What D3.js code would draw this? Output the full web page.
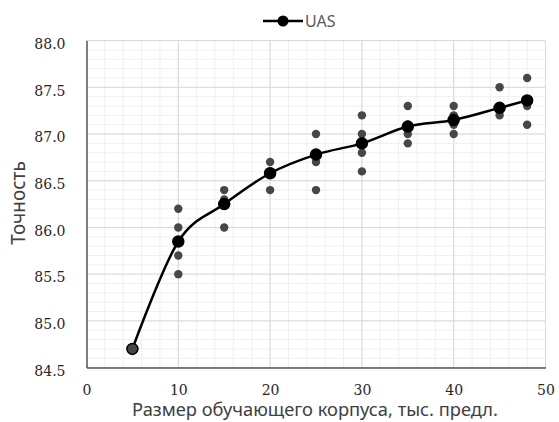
<!DOCTYPE html>
<html>
<head>
<meta charset="utf-8">
<script src="https://cdn.jsdelivr.net/npm/d3@7"></script>
<style>
  body { margin: 0; background: #fff; }
  svg { display: block; }
</style>
</head>
<body>
<div id="chart"></div>
<script>
// средние значения (линия UAS)
var sizes = [5, 10, 15, 20, 25, 30, 35, 40, 45, 48];
var meanUAS = [84.7, 85.85, 86.25, 86.58, 86.78, 86.9, 87.08, 87.15, 87.28, 87.36];

// отдельные прогоны (серые точки)
var runX = [5,
  10, 10, 10, 10,
  15, 15, 15,
  20, 20, 20,
  25, 25, 25,
  30, 30, 30, 30, 30,
  35, 35, 35, 35,
  40, 40, 40, 40,
  45, 45, 45,
  48, 48, 48, 48];
var runY = [84.7,
  86.2, 86.0, 85.7, 85.5,
  86.4, 86.3, 86.0,
  86.7, 86.6, 86.4,
  87.0, 86.7, 86.4,
  87.2, 87.0, 86.9, 86.8, 86.6,
  87.3, 87.1, 87.0, 86.9,
  87.3, 87.2, 87.1, 87.0,
  87.5, 87.25, 87.2,
  87.6, 87.35, 87.3, 87.1];

var xTicks = [0, 10, 20, 30, 40, 50];
var yTicks = [84.5, 85.0, 85.5, 86.0, 86.5, 87.0, 87.5, 88.0];
var seriesName = "UAS";
var xTitle = "Размер обучающего корпуса, тыс. предл.";
var yTitle = "Точность";

var WIDTH = 559, HEIGHT = 422;
var margin = {left: 86.5, right: 13.5, top: 40.6, bottom: 54.4};

var svg = d3.select("#chart").append("svg")
    .attr("width", WIDTH)
    .attr("height", HEIGHT);

var x = d3.scaleLinear().domain([0, 50]).range([margin.left, WIDTH - margin.right]);
var y = d3.scaleLinear().domain([84.5, 88]).range([HEIGHT - margin.bottom, margin.top]);

// сетка: мелкая
var minorX = d3.range(0, 50.01, 2), minorY = d3.range(84.5, 88.001, 0.1);
svg.append("g").selectAll("line.mx").data(minorX).enter().append("line")
    .attr("x1", d => x(d)).attr("x2", d => x(d))
    .attr("y1", y(84.5)).attr("y2", y(88))
    .attr("stroke", "#f0f0f0").attr("stroke-width", 1);
svg.append("g").selectAll("line.my").data(minorY).enter().append("line")
    .attr("x1", x(0)).attr("x2", x(50))
    .attr("y1", d => y(d)).attr("y2", d => y(d))
    .attr("stroke", "#f0f0f0").attr("stroke-width", 1);

// сетка: основная
svg.append("g").selectAll("line").data(xTicks).enter().append("line")
    .attr("x1", d => x(d)).attr("x2", d => x(d))
    .attr("y1", y(84.5)).attr("y2", y(88))
    .attr("stroke", "#d9d9d9").attr("stroke-width", 1);
svg.append("g").selectAll("line").data(yTicks).enter().append("line")
    .attr("x1", x(0)).attr("x2", x(50))
    .attr("y1", d => y(d)).attr("y2", d => y(d))
    .attr("stroke", "#d9d9d9").attr("stroke-width", 1);

// оси
var xAxis = svg.append("g")
    .attr("transform", "translate(0," + y(84.5) + ")")
    .call(d3.axisBottom(x).tickValues(xTicks).tickSize(0).tickPadding(17));
var yAxis = svg.append("g")
    .attr("transform", "translate(" + x(0) + ",0)")
    .call(d3.axisLeft(y).tickValues(yTicks).tickFormat(d3.format(".1f")).tickSize(0).tickPadding(21));
yAxis.selectAll("text").attr("dy", "0.55em");

[xAxis, yAxis].forEach(function (g) {
    g.attr("font-family", "'DejaVu Serif', serif");
    g.select(".domain").attr("stroke", "#595959").attr("stroke-width", 1.5);
    g.selectAll("text")
        .style("font-family", "'DejaVu Serif', serif")
        .style("font-size", "14px")
        .attr("fill", "#262626");
});

// подписи осей
svg.append("text")
    .attr("x", 315).attr("y", 416)
    .attr("text-anchor", "middle")
    .style("font-family", "'Noto Sans', sans-serif")
    .style("font-size", "18.3px")
    .attr("fill", "#404040")
    .text(xTitle);
svg.append("text")
    .attr("transform", "translate(25,203) rotate(-90)")
    .attr("text-anchor", "middle")
    .style("font-family", "'Noto Sans', sans-serif")
    .style("font-size", "19px")
    .attr("fill", "#404040")
    .text(yTitle);

// серые точки
svg.append("g").selectAll("circle").data(runX).enter().append("circle")
    .attr("cx", d => x(d))
    .attr("cy", (d, i) => y(runY[i]))
    .attr("r", 4.2)
    .attr("fill", "#474747");

// сглаженная линия
var line = d3.line()
    .x(d => x(d))
    .y((d, i) => y(meanUAS[i]))
    .curve(d3.curveCatmullRom.alpha(0));
svg.append("path")
    .datum(sizes)
    .attr("d", line)
    .attr("fill", "none")
    .attr("stroke", "#000")
    .attr("stroke-width", 2.5);

svg.append("g").selectAll("circle").data(sizes).enter().append("circle")
    .attr("cx", d => x(d))
    .attr("cy", (d, i) => y(meanUAS[i]))
    .attr("r", 5.5)
    .attr("fill", (d, i) => i === 0 ? "#474747" : "#000")
    .attr("stroke", "#000")
    .attr("stroke-width", 1.5);

// легенда
var lg = svg.append("g").attr("transform", "translate(263,21)");
lg.append("line").attr("x1", 0).attr("x2", 40).attr("y1", 0).attr("y2", 0)
    .attr("stroke", "#000").attr("stroke-width", 2.5);
lg.append("circle").attr("cx", 20).attr("cy", 0).attr("r", 5.5).attr("fill", "#000");
lg.append("text").attr("x", 42).attr("y", 6)
    .style("font-family", "'Noto Sans', sans-serif")
    .style("font-size", "16px")
    .attr("fill", "#595959")
    .text(seriesName);
</script>
</body>
</html>
